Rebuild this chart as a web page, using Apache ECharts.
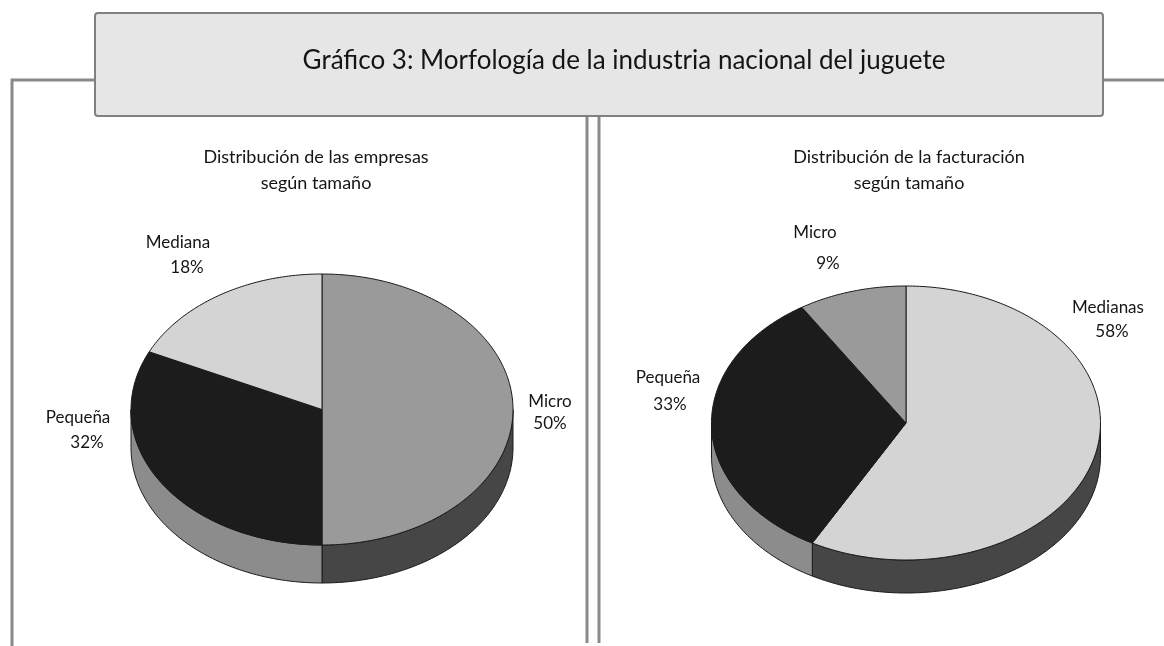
<!DOCTYPE html>
<html><head><meta charset="utf-8">
<script src="https://cdn.jsdelivr.net/npm/echarts@6/dist/echarts.min.js"></script>
<style>html,body{margin:0;padding:0;background:#fff}#c{width:1164px;height:646px}</style>
</head><body><div id="c"></div>
<script>
// ---- data ----
const chartTitle = 'Gráfico 3: Morfología de la industria nacional del juguete';
const leftTitle = 'Distribución de las empresas\nsegún tamaño';
const rightTitle = 'Distribución de la facturación\nsegún tamaño';
const leftCategories = ['Micro', 'Pequeña', 'Mediana'];
const leftValues = [50, 32, 18];
const rightCategories = ['Medianas', 'Pequeña', 'Micro'];
const rightValues = [58, 33, 9];

// ---- styles / layout ----
const FONT = 'Lato, "Open Sans", sans-serif';
const topColors = { 'Micro': '#9a9a9a', 'Pequeña': '#1c1c1c', 'Mediana': '#d4d4d4', 'Medianas': '#d4d4d4' };
const sideColors = { 'Micro': '#464646', 'Pequeña': '#8c8c8c', 'Mediana': '#464646', 'Medianas': '#464646' };
const leftGeom = { cx: 322, cy: 409.5, rx: 191, ry: 135.5, depth: 38 };
const rightGeom = { cx: 906, cy: 423, rx: 194.5, ry: 137, depth: 33 };
const leftLabelPos = [[550, 402, 550, 424], [78, 418, 87, 443], [178, 243, 187, 268]];
const rightLabelPos = [[1108, 308, 1112, 332], [668, 378, 670, 405], [815, 233, 828, 264]];

function makePie(cats, vals, g, labelPos) {
  const total = vals.reduce((a, b) => a + b, 0);
  const starts = []; let acc = 0;
  vals.forEach(v => { starts.push(acc); acc += v; });
  return {
    type: 'custom', coordinateSystem: 'none', silent: true,
    data: vals.map((v, i) => ({ name: cats[i], value: v })),
    renderItem: function (params, api) {
      const i = params.dataIndex;
      const v = api.value(0);
      const a = starts[i] / total * 360, b = (starts[i] + v) / total * 360;
      const pt = (t, dy) => { const r = t * Math.PI / 180; return [g.cx + g.rx * Math.sin(r), g.cy - g.ry * Math.cos(r) + (dy || 0)]; };
      const arc = (s, e, dy) => { const n = Math.max(2, Math.ceil(e - s)); const p = []; for (let k = 0; k <= n; k++) p.push(pt(s + (e - s) * k / n, dy)); return p; };
      const children = [];
      const s = Math.max(a, 90), e = Math.min(b, 270);
      if (s < e) {
        const pts = arc(s, e, 0).concat(arc(s, e, g.depth).reverse());
        children.push({ type: 'polygon', z2: 1, shape: { points: pts }, style: { fill: sideColors[cats[i]], stroke: '#1a1a1a', lineWidth: 1 } });
      }
      children.push({ type: 'polygon', z2: 5, shape: { points: [[g.cx, g.cy]].concat(arc(a, b, 0)) }, style: { fill: topColors[cats[i]], stroke: '#1a1a1a', lineWidth: 1 } });
      const lp = labelPos[i];
      children.push({ type: 'text', z2: 10, style: { text: cats[i], x: lp[0], y: lp[1], align: 'center', verticalAlign: 'middle', fill: '#151515', font: '17px ' + FONT } });
      children.push({ type: 'text', z2: 10, style: { text: Math.round(v / total * 100) + '%', x: lp[2], y: lp[3], align: 'center', verticalAlign: 'middle', fill: '#151515', font: '17px ' + FONT } });
      return { type: 'group', children: children };
    }
  };
}

const chart = echarts.init(document.getElementById('c'), null, { renderer: 'canvas' });
chart.setOption({
  backgroundColor: '#ffffff',
  animation: false,
  graphic: [
    { type: 'polyline', z: 1, shape: { points: [[12, 646], [12, 80], [96, 80]] }, style: { stroke: '#8a8a8a', lineWidth: 3, fill: null } },
    { type: 'line', z: 1, shape: { x1: 1102, y1: 80, x2: 1164, y2: 80 }, style: { stroke: '#8a8a8a', lineWidth: 3 } },
    { type: 'line', z: 1, shape: { x1: 587, y1: 116, x2: 587, y2: 643 }, style: { stroke: '#8a8a8a', lineWidth: 3 } },
    { type: 'line', z: 1, shape: { x1: 599, y1: 116, x2: 599, y2: 643 }, style: { stroke: '#8a8a8a', lineWidth: 3 } },
    { type: 'rect', z: 2, shape: { x: 95, y: 13, width: 1008, height: 103, r: 3 }, style: { fill: '#e6e6e6', stroke: '#808080', lineWidth: 2 } },
    { type: 'text', z: 3, style: { text: chartTitle, x: 624, y: 61, align: 'center', verticalAlign: 'middle', fill: '#151515', font: '26px ' + FONT } },
    { type: 'text', z: 3, style: { text: leftTitle, x: 316, y: 170, align: 'center', verticalAlign: 'middle', fill: '#151515', font: '18px ' + FONT, lineHeight: 26 } },
    { type: 'text', z: 3, style: { text: rightTitle, x: 909, y: 170, align: 'center', verticalAlign: 'middle', fill: '#151515', font: '18px ' + FONT, lineHeight: 26 } }
  ],
  series: [
    makePie(leftCategories, leftValues, leftGeom, leftLabelPos),
    makePie(rightCategories, rightValues, rightGeom, rightLabelPos)
  ]
});
</script>
</body></html>
